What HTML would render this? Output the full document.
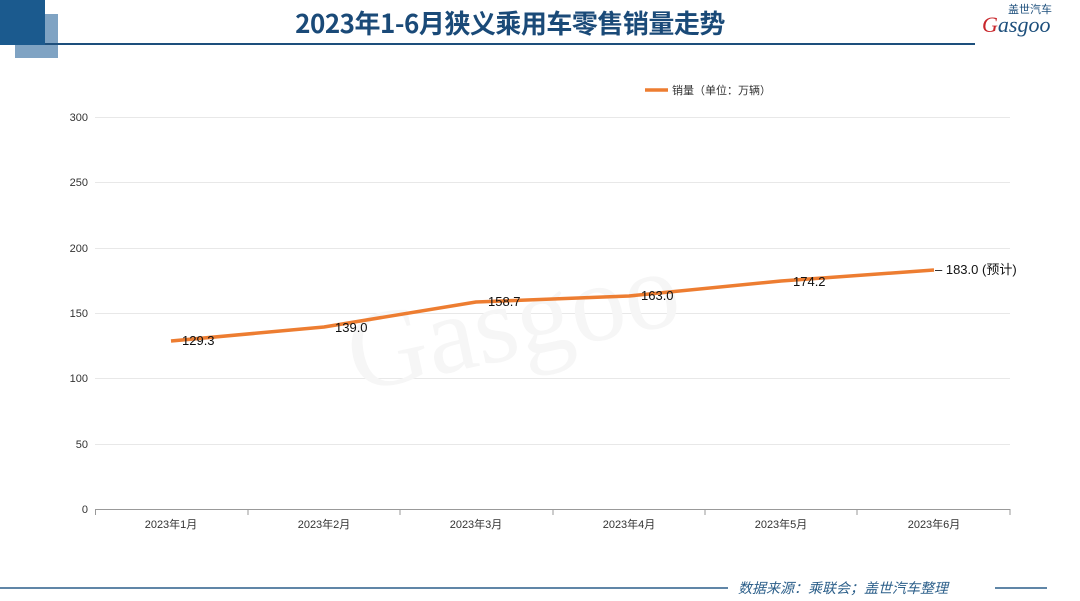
<!DOCTYPE html>
<html><head><meta charset="utf-8"><style>
body{margin:0;width:1080px;height:601px;background:#fff;overflow:hidden;position:relative;font-family:"Liberation Sans","Noto Sans CJK SC",sans-serif}
</style></head><body>
<div style="position:absolute;left:15px;top:14px;width:43px;height:44px;background:#7fa3c3"></div>
<div style="position:absolute;left:0;top:0;width:45px;height:45px;background:#1b5a8e"></div>
<div style="position:absolute;left:45px;top:43px;width:930px;height:2px;background:#1d4f7c"></div>
<div style="position:absolute;left:0;top:4px;width:1020px;text-align:center;font-size:26px;font-weight:bold;color:#1a4a78;font-family:'Noto Sans CJK SC',sans-serif;letter-spacing:-0.5px">2023年1-6月狭义乘用车零售销量走势</div>
<div style="position:absolute;left:982px;top:12px;font-size:22px;color:#1d4f7c;font-style:italic;font-family:'Liberation Serif',serif"><span style="color:#c8262b">G</span>asgoo</div>
<div style="position:absolute;left:1008px;top:1px;font-size:11px;color:#1d4f7c;font-family:'Noto Sans CJK SC',sans-serif">盖世汽车</div>
<svg width="1080" height="601" style="position:absolute;left:0;top:0" font-family="Liberation Sans,Noto Sans CJK SC,sans-serif">
<g stroke="#e8e8e8" stroke-width="1">
<line x1="95" x2="1010" y1="117.5" y2="117.5"/><line x1="95" x2="1010" y1="182.5" y2="182.5"/><line x1="95" x2="1010" y1="248.5" y2="248.5"/><line x1="95" x2="1010" y1="313.5" y2="313.5"/><line x1="95" x2="1010" y1="378.5" y2="378.5"/><line x1="95" x2="1010" y1="444.5" y2="444.5"/>
</g>
<line x1="95" x2="1010" y1="509.5" y2="509.5" stroke="#999"/>
<g stroke="#999"><line x1="95.5" x2="95.5" y1="509" y2="515"/><line x1="248" x2="248" y1="509" y2="515"/><line x1="400" x2="400" y1="509" y2="515"/><line x1="553" x2="553" y1="509" y2="515"/><line x1="705" x2="705" y1="509" y2="515"/><line x1="857" x2="857" y1="509" y2="515"/><line x1="1010" x2="1010" y1="509" y2="515"/></g>
<g font-size="11" fill="#333" text-anchor="end">
<text x="88" y="121">300</text><text x="88" y="186">250</text><text x="88" y="252">200</text><text x="88" y="317">150</text><text x="88" y="382">100</text><text x="88" y="448">50</text><text x="88" y="513">0</text>
</g>
<g font-size="11" fill="#333" text-anchor="middle">
<text x="171" y="528">2023年1月</text><text x="324" y="528">2023年2月</text><text x="476" y="528">2023年3月</text><text x="629" y="528">2023年4月</text><text x="781" y="528">2023年5月</text><text x="934" y="528">2023年6月</text>
</g>
<text x="340" y="360" font-size="110" fill="#f6f6f6" font-family="Liberation Serif,serif" transform="rotate(-12 500 300)">Gasgoo</text>
<polyline points="171,341 324,327 476,302 629,296 781,281 934,270" fill="none" stroke="#ed7d31" stroke-width="3.5" stroke-linejoin="round"/>
<g font-size="13" fill="#111">
<text x="182" y="345">129.3</text><text x="335" y="332">139.0</text><text x="488" y="306">158.7</text><text x="641" y="300">163.0</text><text x="793" y="286">174.2</text><text x="935" y="274">– 183.0 (预计)</text>
</g>
<line x1="645" x2="668" y1="90" y2="90" stroke="#ed7d31" stroke-width="3.5"/>
<text x="672" y="94" font-size="11" fill="#333">销量（单位：万辆）</text>
<line x1="0" x2="728" y1="588" y2="588" stroke="#2c5f8a" stroke-width="1.5"/>
<line x1="995" x2="1047" y1="588" y2="588" stroke="#2c5f8a" stroke-width="1.5"/>
<text x="738" y="593" font-size="14" fill="#2c5f8a" font-style="italic">数据来源：乘联会；盖世汽车整理</text>
</svg>
</body></html>
